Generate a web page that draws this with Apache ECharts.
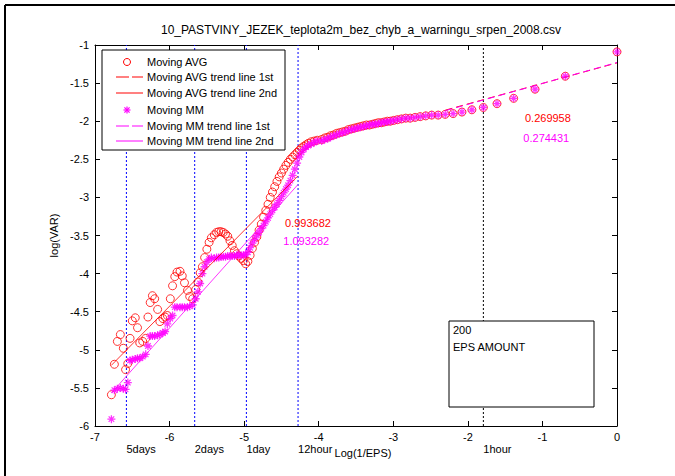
<!DOCTYPE html>
<html>
<head>
<meta charset="utf-8">
<script src="https://cdn.jsdelivr.net/npm/echarts@6/dist/echarts.min.js"></script>
<style>
html,body{margin:0;padding:0;background:#fff;}
#chart{width:675px;height:476px;}
</style>
</head>
<body>
<div id="chart"></div>
<script>
// ---- data ----
const chartTitle = '10_PASTVINY_JEZEK_teplota2m_bez_chyb_a_warningu_srpen_2008.csv';

const epsLog = [
  -6.78,-6.74,-6.70,-6.66,-6.62,-6.59,-6.56,-6.53,-6.50,-6.46,-6.43,-6.40,-6.36,-6.32,-6.29,-6.26,-6.23,-6.20,-6.16,-6.13,
  -6.09,-6.06,-6.03,-5.99,-5.96,-5.93,-5.90,-5.86,-5.83,-5.80,-5.76,-5.73,-5.69,-5.65,-5.62,-5.59,-5.56,-5.53,-5.50,-5.47,
  -5.44,-5.40,-5.37,-5.34,-5.31,-5.28,-5.25,-5.22,-5.19,-5.16,-5.13,-5.10,-5.07,-5.04,-5.01,-4.98,-4.95,-4.92,-4.89,-4.86,
  -4.83,-4.80,-4.77,-4.74,-4.71,-4.68,-4.65,-4.62,-4.59,-4.56,-4.53,-4.50,-4.47,-4.44,-4.41,-4.38,-4.35,-4.32,-4.29,-4.26,
  -4.23,-4.20,-4.17,-4.14,-4.10,-4.06,-4.02,
  -3.96,-3.92,-3.88,-3.84,-3.80,-3.76,-3.72,-3.68,-3.64,-3.60,-3.56,-3.52,-3.48,-3.44,-3.40,-3.36,-3.32,-3.28,-3.24,-3.20,
  -3.16,-3.12,-3.08,-3.04,
  -2.996,-2.944,-2.890,-2.833,-2.773,-2.708,-2.639,-2.565,-2.485,-2.398,-2.303,-2.197,-2.079,-1.946,-1.792,-1.609,-1.386,-1.099,-0.693,0
];

const avgVar = [
  -5.59,-5.19,-4.89,-4.80,-4.98,-5.26,-5.18,-4.85,-4.62,-4.58,-4.71,-4.91,-4.89,-4.85,-4.57,-4.38,-4.29,-4.33,-4.47,-4.63,
  -4.59,-4.57,-4.55,-4.33,-4.16,-4.04,-3.98,-3.97,-4.03,-4.12,-4.22,-4.30,-4.33,-4.21,-4.11,-3.99,-3.91,-3.79,-3.68,-3.59,
  -3.53,-3.49,-3.46,-3.45,-3.45,-3.46,-3.48,-3.51,-3.57,-3.63,-3.70,-3.74,-3.77,-3.80,-3.83,-3.87,-3.84,-3.76,-3.67,-3.59,
  -3.52,-3.43,-3.35,-3.26,-3.17,-3.09,-3.00,-2.93,-2.86,-2.79,-2.73,-2.68,-2.63,-2.58,-2.54,-2.50,-2.47,-2.44,-2.41,-2.38,
  -2.35,-2.33,-2.31,-2.29,-2.27,-2.26,-2.25,
  -2.24,-2.22,-2.21,-2.19,-2.18,-2.16,-2.15,-2.14,-2.13,-2.11,-2.10,-2.09,-2.08,-2.07,-2.06,-2.05,-2.05,-2.04,-2.03,-2.02,
  -2.02,-2.01,-2.00,-2.00,
  -1.99,-1.98,-1.97,-1.96,-1.96,-1.95,-1.94,-1.93,-1.92,-1.92,-1.91,-1.90,-1.88,-1.85,-1.82,-1.77,-1.70,-1.58,-1.41,-1.09
];

const mmVar = [
  -5.91,-5.53,-5.51,-5.50,-5.51,-5.52,-5.43,-5.14,-5.13,-5.12,-5.11,-5.11,-5.09,-5.06,-4.95,-4.82,-4.82,-4.82,-4.81,-4.80,
  -4.78,-4.76,-4.66,-4.59,-4.55,-4.44,-4.44,-4.44,-4.44,-4.44,-4.44,-4.43,-4.41,-4.33,-4.24,-4.13,-4.00,-3.91,-3.85,-3.81,
  -3.79,-3.80,-3.79,-3.79,-3.78,-3.78,-3.78,-3.77,-3.77,-3.77,-3.77,-3.76,-3.76,-3.76,-3.76,-3.75,-3.72,-3.66,-3.60,-3.55,
  -3.50,-3.46,-3.41,-3.37,-3.32,-3.27,-3.22,-3.17,-3.13,-3.09,-3.04,-2.99,-2.94,-2.89,-2.84,-2.78,-2.71,-2.63,-2.55,-2.47,
  -2.41,-2.37,-2.34,-2.32,-2.30,-2.28,-2.26,
  -2.26,-2.24,-2.23,-2.21,-2.19,-2.18,-2.16,-2.15,-2.14,-2.12,-2.11,-2.10,-2.09,-2.08,-2.07,-2.06,-2.05,-2.04,-2.04,-2.03,
  -2.02,-2.01,-2.01,-2.00,
  -1.99,-1.98,-1.97,-1.96,-1.96,-1.95,-1.94,-1.93,-1.92,-1.92,-1.91,-1.90,-1.88,-1.85,-1.82,-1.77,-1.70,-1.58,-1.41,-1.09
];

// trend lines: slope, intercept, x range
const avgTrend1 = [0.269958, -1.234];
const avgTrend2 = [0.993682, 1.534];
const mmTrend1 = [0.274431, -1.230];
const mmTrend2 = [1.093282, 1.846];
const trend1Range = [-2.3, 0];
const trend2Range = [-6.78, -4.28];

// time marks (vertical dotted lines)
const timeMarkX = [-6.579, -5.663, -4.970, -4.277, -1.792];
const timeMarkLabels = ['5days', '2days', '1day', '12hour', '1hour'];
const timeMarkColors = ['#0000ff', '#0000ff', '#0000ff', '#0000ff', '#000000'];

// slope annotations [x, y] in data coords
const slopeTexts = ['0.993682', '1.093282', '0.269958', '0.274431'];
const slopeTextPos = [[-4.452, -3.339], [-4.475, -3.575], [-1.234, -1.955], [-1.256, -2.218]];
const slopeTextColors = ['#ff0000', '#ff00ff', '#ff0000', '#ff00ff'];

const xTicks = [-7, 0, 1];      // min, max, interval
const yTicks = [-6, -1, 0.5];

const legendNames = ['Moving AVG', 'Moving AVG trend line 1st', 'Moving AVG trend line 2nd',
                     'Moving MM', 'Moving MM trend line 1st', 'Moving MM trend line 2nd'];
const boxLines = ['200', 'EPS AMOUNT'];

// ---- chart ----
const FONT = '"Liberation Sans", Arial, sans-serif';
const RED = '#ff0000', MAG = '#ff00ff';
const STAR = 'path://M0,4.2H10V5.8H0Z M4.2,0H5.8V10H4.2Z M1.0,2.1L2.1,1.0L9.0,7.9L7.9,9.0Z M7.9,1.0L9.0,2.1L2.1,9.0L1.0,7.9Z';

function trendData(t, r) { return r.map(x => [x, t[0] * x + t[1]]); }

const chart = echarts.init(document.getElementById('chart'), null, {renderer: 'svg'});

const axisCommon = {
  type: 'value',
  axisLine: {show: true, onZero: false, lineStyle: {color: '#000', width: 1}},
  axisTick: {show: true, inside: true, length: 5, lineStyle: {color: '#000'}},
  splitLine: {show: false}
};

const timeSeries = timeMarkX.map((x, i) => ({
  name: timeMarkLabels[i], type: 'line', silent: true, showSymbol: false, z: 1,
  data: [[x, yTicks[0]], [x, yTicks[1]]],
  itemStyle: {color: timeMarkColors[i]},
  lineStyle: {color: timeMarkColors[i], width: 1, type: [2, 2]}
}));

const option = {
  animation: false,
  backgroundColor: '#fff',
  title: {
    text: chartTitle, left: 356, top: 19, textAlign: 'center',
    textStyle: {fontFamily: FONT, fontSize: 12, fontWeight: 'normal', color: '#000'}
  },
  grid: {left: 95, right: 58, top: 45, bottom: 50, containLabel: false},
  xAxis: [
    Object.assign({}, axisCommon, {
      position: 'bottom', min: xTicks[0], max: xTicks[1], interval: xTicks[2],
      name: 'Log(1/EPS)', nameLocation: 'middle', nameGap: 21,
      nameTextStyle: {fontFamily: FONT, fontSize: 11, color: '#000', padding: [0, 0, 0, 14]},
      axisLabel: {show: true, margin: 5, lineHeight: 12, fontFamily: FONT, fontSize: 11, color: '#000', showMinLabel: true, showMaxLabel: true}
    }),
    Object.assign({}, axisCommon, {
      position: 'top', min: xTicks[0], max: xTicks[1], interval: xTicks[2],
      axisLabel: {show: false}
    })
  ],
  yAxis: [
    Object.assign({}, axisCommon, {
      position: 'left', min: yTicks[0], max: yTicks[1], interval: yTicks[2],
      name: 'log(VAR)', nameLocation: 'middle', nameGap: 31, nameRotate: 90,
      nameTextStyle: {fontFamily: FONT, fontSize: 11, color: '#000'},
      axisLabel: {show: true, margin: 6, fontFamily: FONT, fontSize: 11, color: '#000', showMinLabel: true, showMaxLabel: true}
    }),
    Object.assign({}, axisCommon, {
      position: 'right', min: yTicks[0], max: yTicks[1], interval: yTicks[2],
      axisLabel: {show: false}
    })
  ],
  series: timeSeries.concat([
    {
      name: legendNames[0], type: 'scatter', silent: true,
      data: epsLog.map((x, i) => [x, avgVar[i]]),
      symbol: 'circle', symbolSize: 8,
      itemStyle: {color: 'rgba(0,0,0,0)', borderColor: RED, borderWidth: 1}
    },
    {
      name: legendNames[1], type: 'line', silent: true, showSymbol: false,
      data: trendData(avgTrend1, trend1Range),
      lineStyle: {color: RED, width: 1, type: [7, 4]}
    },
    {
      name: legendNames[2], type: 'line', silent: true, showSymbol: false,
      data: trendData(avgTrend2, trend2Range),
      lineStyle: {color: RED, width: 0.8}
    },
    {
      name: legendNames[3], type: 'scatter', silent: true,
      data: epsLog.map((x, i) => [x, mmVar[i]]),
      symbol: STAR, symbolSize: 8,
      itemStyle: {color: MAG}
    },
    {
      name: legendNames[4], type: 'line', silent: true, showSymbol: false,
      data: trendData(mmTrend1, trend1Range),
      lineStyle: {color: MAG, width: 1, type: [7, 4]}
    },
    {
      name: legendNames[5], type: 'line', silent: true, showSymbol: false,
      data: trendData(mmTrend2, trend2Range),
      lineStyle: {color: MAG, width: 0.8}
    }
  ])
};

chart.setOption(option);

// ---- overlay texts positioned through the axes' scales ----
const g = [];
// outer figure border (top & left)
g.push({type: 'line', shape: {x1: 5, y1: 5, x2: 675, y2: 5}, style: {stroke: '#000', lineWidth: 2}, silent: true});
g.push({type: 'line', shape: {x1: 5, y1: 5, x2: 5, y2: 476}, style: {stroke: '#000', lineWidth: 2}, silent: true});

const yBottom = chart.convertToPixel({gridIndex: 0}, [0, yTicks[0]])[1];
timeMarkX.forEach((x, i) => {
  const p = chart.convertToPixel({gridIndex: 0}, [x, yTicks[0]]);
  g.push({type: 'text', x: p[0], y: yBottom + 23, silent: true, z: 10,
    style: {text: timeMarkLabels[i], fontFamily: FONT, fontSize: 11, lineHeight: 11, fill: '#000', align: 'left', verticalAlign: 'middle'}});
});
slopeTexts.forEach((t, i) => {
  const p = chart.convertToPixel({gridIndex: 0}, slopeTextPos[i]);
  g.push({type: 'text', x: p[0], y: p[1], silent: true, z: 10,
    style: {text: t, fontFamily: FONT, fontSize: 11, fill: slopeTextColors[i], align: 'left', verticalAlign: 'middle'}});
});

// legend box
const LX = 102, LY = 50, LW = 183, LH = 100;
g.push({type: 'rect', shape: {x: LX, y: LY, width: LW, height: LH}, style: {fill: '#fff', stroke: '#000', lineWidth: 1}, z: 20, silent: true});
const rowY = [62, 77, 93, 110, 125.5, 141];
const symX = 127, lineX1 = 116, lineX2 = 143, textX = 147;
legendNames.forEach((name, i) => {
  const y = rowY[i];
  const ly = Math.round(y);
  const col = i < 3 ? RED : MAG;
  if (i === 0) {
    g.push({type: 'circle', shape: {cx: symX, cy: y, r: 3.5}, style: {fill: 'none', stroke: RED, lineWidth: 1}, z: 21, silent: true});
  } else if (i === 3) {
    [[-3.5, 0, 3.5, 0], [0, -3.5, 0, 3.5], [-2.6, -2.6, 2.6, 2.6], [-2.6, 2.6, 2.6, -2.6]].forEach(s => {
      g.push({type: 'line', shape: {x1: symX + s[0], y1: y + s[1], x2: symX + s[2], y2: y + s[3]}, style: {stroke: MAG, lineWidth: 1.2}, z: 21, silent: true});
    });
  } else if (i === 1 || i === 4) {
    // dashed sample drawn as two short segments
    [[lineX1, lineX1 + 13], [lineX1 + 16, lineX2]].forEach(seg => {
      g.push({type: 'rect', shape: {x: seg[0], y: ly - 0.5, width: seg[1] - seg[0], height: 1}, style: {fill: col}, z: 21, silent: true});
    });
  } else {
    g.push({type: 'rect', shape: {x: lineX1, y: ly - 0.5, width: lineX2 - lineX1, height: 1}, style: {fill: col}, z: 21, silent: true});
  }
  g.push({type: 'text', x: textX, y: y, z: 21, silent: true,
    style: {text: name, fontFamily: FONT, fontSize: 11, fill: '#000', align: 'left', verticalAlign: 'middle'}});
});

// EPS amount text box
g.push({type: 'rect', shape: {x: 449, y: 321, width: 145, height: 86}, style: {fill: '#fff', stroke: '#000', lineWidth: 1}, z: 20, silent: true});
boxLines.forEach((t, i) => {
  g.push({type: 'text', x: 453, y: 330 + i * 17, z: 21, silent: true,
    style: {text: t, fontFamily: FONT, fontSize: 11, fill: '#000', align: 'left', verticalAlign: 'middle'}});
});

chart.setOption({graphic: g});
</script>
</body>
</html>
